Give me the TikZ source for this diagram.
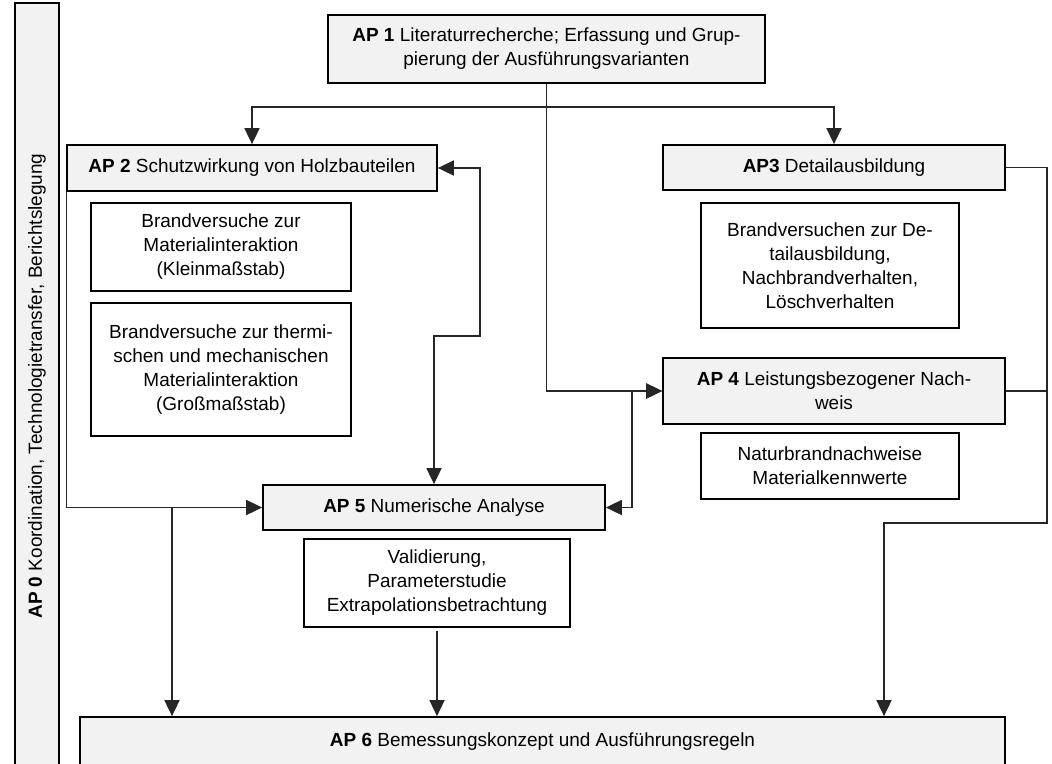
\documentclass[tikz,border=0pt]{standalone}
\usepackage{fontspec}
\setmainfont{Liberation Sans}
\usetikzlibrary{arrows.meta, calc}
\usepackage{xcolor}
\definecolor{apgray}{RGB}{242,242,242}
\tikzset{
  apbox/.style   = {draw, line width=1.3pt, fill=apgray, align=center, inner sep=2pt},
  subbox/.style  = {draw, line width=1.3pt, fill=white, align=center, inner sep=2pt},
  flow/.style    = {-{Triangle[length=4mm, width=3.8mm]}, line width=0.8pt, draw=black!85},
  flowboth/.style = {{Triangle[length=4mm, width=3.8mm]}-{Triangle[length=4mm, width=3.8mm]},
                   line width=0.8pt, draw=black!85},
  link/.style    = {line width=0.8pt, draw=black!85}
}

\begin{document}
\begin{tikzpicture}[font=\fontsize{13.5}{17.07}\selectfont]
\useasboundingbox (0,0) rectangle (26.3,-19.075);
\clip (0,0) rectangle (26.3,-19.075);

% AP 0 side bar (runs past the lower edge)
\node[apbox, rotate=90, minimum width=19.15cm, minimum height=1.1cm] at (0.925,-9.65) (ap0)
  {\textbf{AP 0} Koordination, Technologietransfer, Berichtslegung};

% work packages
\node[apbox, minimum width=10.925cm, minimum height=1.7cm] at (13.66,-1.225) (ap1)
  {\textbf{AP 1} Literaturrecherche; Erfassung und Grup-\\pierung der Ausführungsvarianten};
\node[apbox, minimum width=9.25cm, minimum height=1.15cm] at (6.3,-4.2) (ap2)
  {\textbf{AP 2} Schutzwirkung von Holzbauteilen};
\node[apbox, minimum width=8.55cm, minimum height=1.125cm] at (20.85,-4.1875) (ap3)
  {\textbf{AP3} Detailausbildung};
\node[apbox, minimum width=8.55cm, minimum height=1.65cm] at (20.85,-9.775) (ap4)
  {\textbf{AP 4} Leistungsbezogener Nach-\\weis};
\node[apbox, minimum width=8.55cm, minimum height=1.125cm] at (10.85,-12.6875) (ap5)
  {\textbf{AP 5} Numerische Analyse};
\node[apbox, minimum width=23.125cm, minimum height=1.25cm] at (13.5625,-18.55) (ap6)
  {\textbf{AP 6} Bemessungskonzept und Ausführungsregeln};

% sub tasks
\node[subbox, minimum width=6.5cm, minimum height=2.2cm] at (5.525,-6.175) (klein)
  {Brandversuche zur\\Materialinteraktion\\(Kleinmaßstab)};
\node[subbox, minimum width=6.5cm, minimum height=3.325cm] at (5.525,-9.2375) (gross)
  {Brandversuche zur thermi-\\schen und mechanischen\\Materialinteraktion\\(Großmaßstab)};
\node[subbox, minimum width=6.45cm, minimum height=3.125cm] at (20.75,-6.6375) (detail)
  {Brandversuchen zur De-\\tailausbildung,\\Nachbrandverhalten,\\Löschverhalten};
\node[subbox, minimum width=6.45cm, minimum height=1.65cm] at (20.75,-11.65) (natur)
  {Naturbrandnachweise\\Materialkennwerte};
\node[subbox, minimum width=6.65cm, minimum height=2.2cm] at (10.925,-14.575) (valid)
  {Validierung,\\Parameterstudie\\Extrapolationsbetrachtung};

% bend points
\coordinate (split)  at (13.66,-2.675);
\coordinate (bendA)  at (12.0,-8.4);
\coordinate (joinB)  at (15.8,-9.775);
\coordinate (splitL) at (4.3,-12.6875);
\coordinate (rightC) at (26.175,-13.075);
\coordinate (dropR)  at (22.1,-13.075);

% connectors
\draw[flow] (ap1.south) |- (ap4.west);
\draw[flow] (split) -| (ap2.north);
\draw[flow] (split) -| (ap3.north);
\draw[flowboth] (ap2.east) -| (bendA) -| (ap5.north);
\draw[flowboth] (ap5.east) -| (joinB) -- (ap4.west);
\draw[flow] (ap2.south west) |- (ap5.west);
\draw[flow] (splitL) -- (splitL |- ap6.north);
\draw[flow] ([yshift=-2pt]valid.south) -- (valid.south |- ap6.north);
\draw[flow] (ap3.east) -| (rightC) -- (dropR) -- (dropR |- ap6.north);
\draw[link] (ap4.east) -- (ap4.east -| rightC);
\end{tikzpicture}
\end{document}
